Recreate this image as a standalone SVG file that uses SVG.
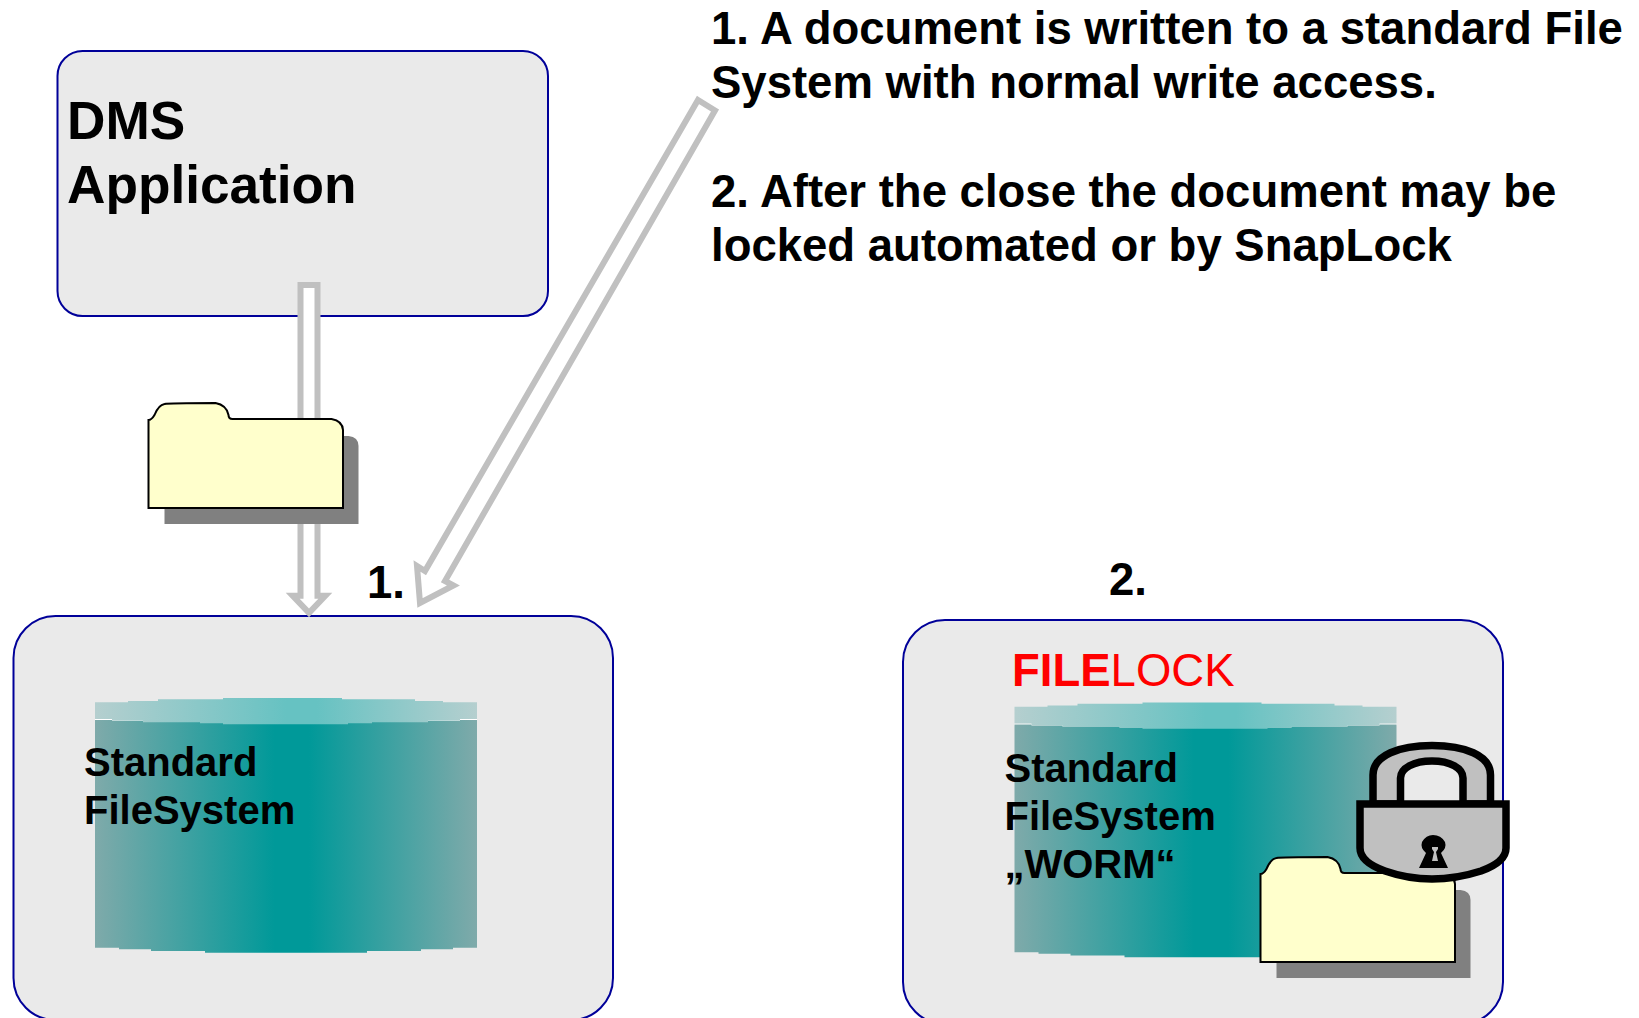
<svg xmlns="http://www.w3.org/2000/svg" width="1639" height="1018" viewBox="0 0 1639 1018">
<style>
text{font-family:"Liberation Sans",Arial,sans-serif;font-weight:700;fill:#000}
.box{fill:#eaeaea;stroke:#000099;stroke-width:2}
.big{font-size:45.500px}
.title{font-size:53.200px}
.lbl{font-size:40px}
.arrow{fill:#fff;stroke:#c0c0c0;stroke-width:6}
.lk{stroke:#000;stroke-width:7.500;fill:#c0c0c0}
</style>
<defs>
<linearGradient id="body"><stop offset="0" stop-color="#7faaaa"/><stop offset=".47" stop-color="#009999"/><stop offset=".56" stop-color="#009999"/><stop offset="1" stop-color="#7faaaa"/></linearGradient>
<linearGradient id="cap"><stop offset="0" stop-color="#b5cfcf"/><stop offset=".5" stop-color="#66c2c2"/><stop offset=".58" stop-color="#66c2c2"/><stop offset="1" stop-color="#b5cfcf"/></linearGradient>
<g id="cyl">
<rect fill="#fff" x="95" y="719" width="382" height="2"/>
<path fill="url(#body)" d="M95 720H112V721H143V722H200V723H372V722H428V721H460V720H477V947.700H453V949.300H421V951H367V952.700H205V951H151V949.300H119V947.700H95Z"/>
<path fill="url(#cap)" d="M95 704V702.300H128V701H158V699.300H223V698H342V699.300H415V701H443V702.300H477V719H460V720.700H428V722.300H372V723.300H348V724.300H223V723.300H200V722.300H143V720.700H112V719H95Z"/>
</g>
<g id="folder">
<path fill="#808080" d="M16 33H200Q210 34 210 43V121H16Z"/>
<path fill="#ffffcc" stroke="#000" stroke-width="2" d="M0 17Q3 17 6 12Q10 2 16 1Q20 0 67 0Q78 2 80 12Q80 16 84 16H183Q194 18 194.500 27V105H0Z"/>
</g>
</defs>
<g id="dms">
<rect class="box" x="57.500" y="51" width="490.500" height="265" rx="25"/>
<text class="title" x="67" y="139">DMS</text>
<text class="title" x="67" y="203">Application</text>
</g>
<g id="fs1">
<rect class="box" x="13.500" y="616" width="599.500" height="404" rx="42"/>
<use href="#cyl"/>
<text class="lbl" x="84" y="776">Standard</text>
<text class="lbl" x="84" y="824">FileSystem</text>
</g>
<g id="fs2">
<rect class="box" x="903" y="620" width="600" height="404" rx="42"/>
<use href="#cyl" x="919.500" y="4.500"/>
<text x="1012" y="686" style="font-size:45.500px;fill:#ff0000">FILE<tspan style="font-weight:400">LOCK</tspan></text>
<text class="lbl" x="1004.500" y="782">Standard</text>
<text class="lbl" x="1004.500" y="830">FileSystem</text>
<text class="lbl" x="1004.500" y="878">„WORM“</text>
</g>
<g id="connectors">
<path class="arrow" d="M300.500 285H317.500V595.700H325.300L309 612.800L292.700 595.700H300.500Z"/>
<path class="arrow" d="M698 100L715 110.500L445 581L453.500 585.500L420 603L417 566L425 571Z"/>
</g>
<g id="folder1"><use href="#folder" x="148.500" y="403"/></g>
<g id="folder2"><use href="#folder" x="1260.500" y="857"/></g>
<g id="lock">
<path class="lk" d="M1373 804V775C1373 755 1400 745.500 1432 745.500C1464 745.500 1490.500 755 1490.500 775V804H1463V778C1463 768 1450 761 1432 761C1414 761 1400.500 768 1400.500 778V804Z"/>
<path class="lk" d="M1360 804H1506V848Q1506 862 1481 871Q1456 879 1432 879Q1408 879 1385 871Q1360 862 1360 848Z"/>
<path d="M1419 868L1426 853Q1420 848 1422 842Q1426 835 1433 835Q1441 835 1445 842Q1447 848 1441 853L1448 868Z"/>
<path fill="#c0c0c0" d="M1432 847H1438V849L1436 852L1438 861H1432L1434 852L1432 849Z"/>
</g>
<g id="notes">
<text class="big" x="711" y="44">1. A document is written to a standard File</text>
<text class="big" x="711" y="98">System with normal write access.</text>
<text class="big" x="711" y="207">2. After the close the document may be</text>
<text class="big" x="711" y="261">locked automated or by SnapLock</text>
<text class="big" x="367" y="598">1.</text>
<text class="big" x="1109" y="595">2.</text>
</g>
</svg>
